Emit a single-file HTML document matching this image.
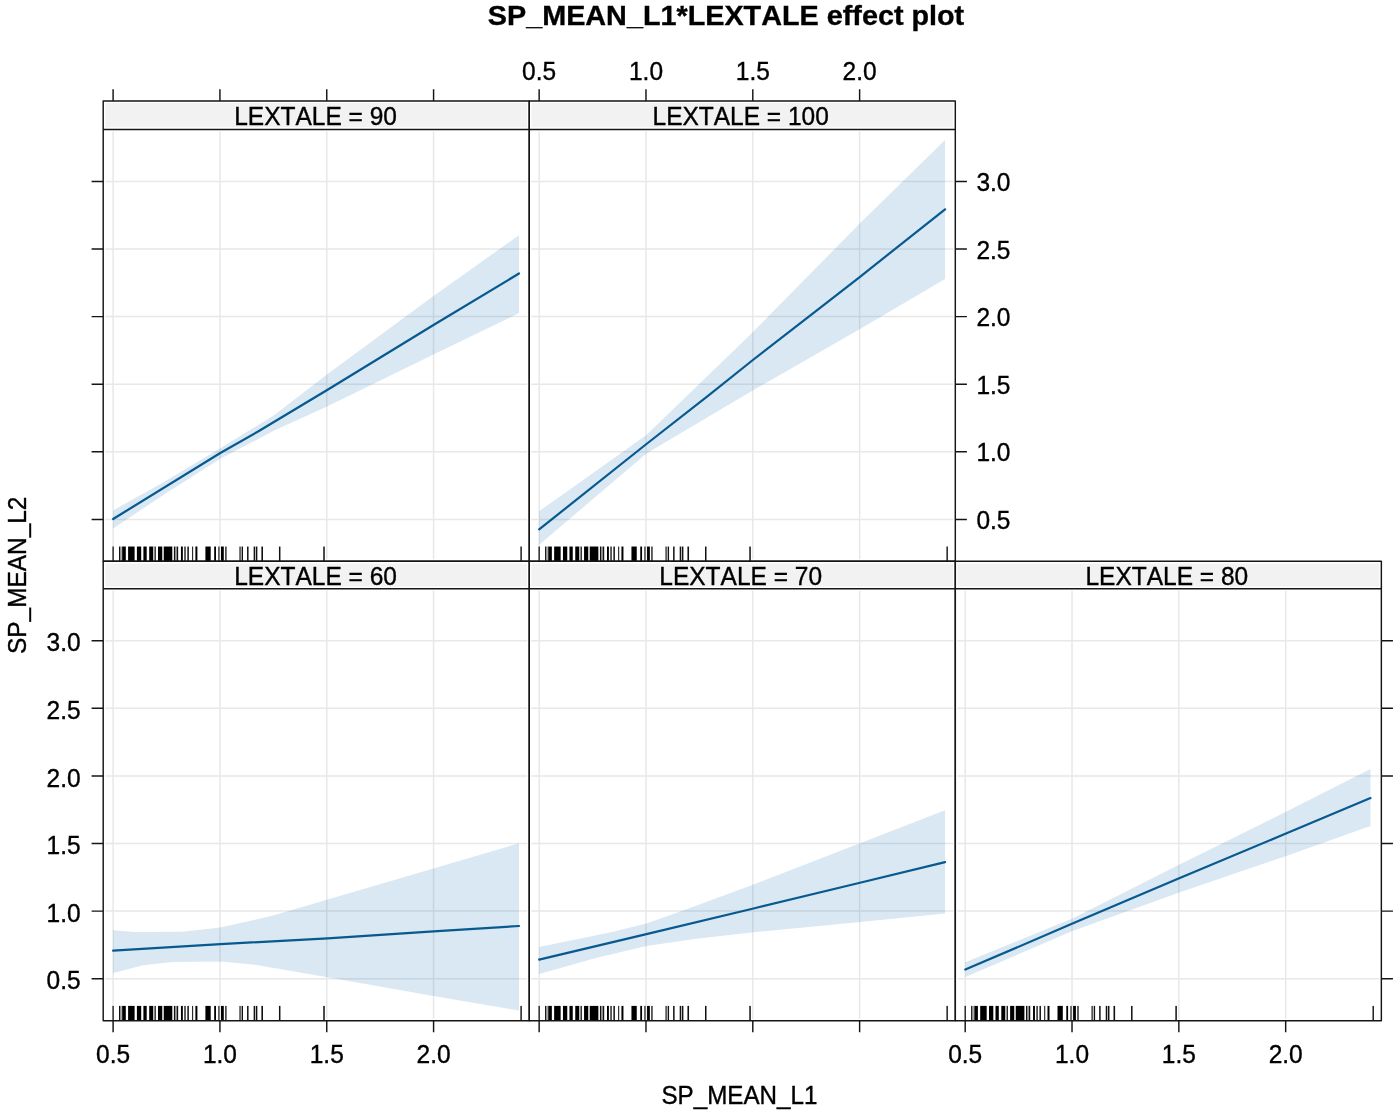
<!DOCTYPE html>
<html lang="en"><head><meta charset="utf-8"><title>SP_MEAN_L1*LEXTALE effect plot</title>
<style>html,body{margin:0;padding:0;background:#fff;overflow:hidden}svg{display:block}text{font-family:"Liberation Sans",Arial,sans-serif;font-kerning:none;fill:#000;stroke:#000;stroke-width:.36px}.t{font-size:24.5px}.g{stroke:#e8e8e8;stroke-width:1.5;fill:none}.fr{stroke:#151515;stroke-width:1.45;fill:none;stroke-linejoin:round}.ln{stroke:#07598f;stroke-width:2.2;fill:none;stroke-linecap:round;stroke-linejoin:round}.bd{fill:rgba(2,102,168,.15);stroke:none}</style></head><body>
<svg width="1393" height="1111" viewBox="0 0 1393 1111">
<rect width="1393" height="1111" fill="#fff"/>
<g>
<rect x="105.4" y="103.1" width="421.65" height="24.25" fill="#f2f2f2"/>
<path class="g" d="M113.1 131.55V559.33M219.93 131.55V559.33M326.75 131.55V559.33M433.58 131.55V559.33M105.2 519.4H527.25M105.2 451.8H527.25M105.2 384.2H527.25M105.2 316.6H527.25M105.2 249H527.25M105.2 181.4H527.25"/>
<polygon class="bd" points="113.1,510.4 161.7,483.2 220.3,448.3 273.7,415.5 327.6,374 433.5,296 519,235.2 519,313.1 433.5,354.6 327.6,406.2 273.7,430.8 220.3,458.8 161.7,496 113.1,528.6"/>
<polyline class="ln" points="113.1,519 220.3,453 258.5,431.3 327.6,389.8 433.5,325 519,273.5"/>
<rect x="122.1" y="546.53" width="3.7" height="14.8" fill="#000"/>
<rect x="128.1" y="546.53" width="6.5" height="14.8" fill="#000"/>
<rect x="136.9" y="546.53" width="4.3" height="14.8" fill="#000"/>
<rect x="143.4" y="546.53" width="3.3" height="14.8" fill="#000"/>
<rect x="149.2" y="546.53" width="4" height="14.8" fill="#000"/>
<rect x="158" y="546.53" width="4" height="14.8" fill="#000"/>
<rect x="163.8" y="546.53" width="8.5" height="14.8" fill="#000"/>
<rect x="205.4" y="546.53" width="5.3" height="14.8" fill="#000"/>
<rect x="221" y="546.53" width="2.8" height="14.8" fill="#000"/>
<rect x="120.2" y="546.53" width="1.9" height="14.8" fill="#aaa"/>
<rect x="153.2" y="546.53" width="1.4" height="14.8" fill="#bbb"/>
<rect x="162" y="546.53" width="1.8" height="14.8" fill="#bbb"/>
<rect x="175.1" y="546.53" width="1.8" height="14.8" fill="#999"/>
<rect x="112.45" y="546.53" width="1.3" height="14.8" fill="#111"/>
<rect x="119" y="546.53" width="1.2" height="14.8" fill="#111"/>
<rect x="173.9" y="546.53" width="1.2" height="14.8" fill="#111"/>
<rect x="176.85" y="546.53" width="1.3" height="14.8" fill="#111"/>
<rect x="180.95" y="546.53" width="1.9" height="14.8" fill="#000"/>
<rect x="184.15" y="546.53" width="1.7" height="14.8" fill="#444"/>
<rect x="187.35" y="546.53" width="1.5" height="14.8" fill="#111"/>
<rect x="192.05" y="546.53" width="1.1" height="14.8" fill="#222"/>
<rect x="195.4" y="546.53" width="2" height="14.8" fill="#000"/>
<rect x="214.2" y="546.53" width="1.8" height="14.8" fill="#000"/>
<rect x="218.15" y="546.53" width="1.5" height="14.8" fill="#444"/>
<rect x="225.25" y="546.53" width="1.3" height="14.8" fill="#111"/>
<rect x="239.3" y="546.53" width="1.5" height="14.8" fill="#444"/>
<rect x="241.6" y="546.53" width="1.4" height="14.8" fill="#111"/>
<rect x="247.05" y="546.53" width="1.5" height="14.8" fill="#111"/>
<rect x="253.65" y="546.53" width="1.5" height="14.8" fill="#111"/>
<rect x="255.85" y="546.53" width="1.5" height="14.8" fill="#111"/>
<rect x="261.4" y="546.53" width="1.6" height="14.8" fill="#111"/>
<rect x="278.95" y="546.53" width="1.5" height="14.8" fill="#111"/>
<rect x="323.25" y="546.53" width="1.5" height="14.8" fill="#111"/>
<rect x="520.4" y="546.53" width="1.4" height="14.8" fill="#111"/>
<rect x="154.6" y="546.53" width="1.2" height="14.8" fill="#111"/>
<path class="fr" d="M103.2 100.9H529.25V561.33H103.2ZM103.2 129.55H529.25"/>
<text class="t" transform="translate(315.53 125.45) scale(1 1.035)" text-anchor="middle">LEXTALE = 90</text>
</g>
<g>
<rect x="531.45" y="103.1" width="421.65" height="24.25" fill="#f2f2f2"/>
<path class="g" d="M539.15 131.55V559.33M645.98 131.55V559.33M752.8 131.55V559.33M859.62 131.55V559.33M531.25 519.4H953.3M531.25 451.8H953.3M531.25 384.2H953.3M531.25 316.6H953.3M531.25 249H953.3M531.25 181.4H953.3"/>
<polygon class="bd" points="539.15,511.3 646.45,435 753.5,331.4 860,223.3 945.05,140.1 945.05,279.1 860,329 753.5,390 646.45,453.5 539.15,544.8"/>
<polyline class="ln" points="539.15,529.4 646.45,444 708.3,395.7 753.5,359.5 808.8,316.7 860,276.8 945.05,209.3"/>
<rect x="548.15" y="546.53" width="3.7" height="14.8" fill="#000"/>
<rect x="554.15" y="546.53" width="6.5" height="14.8" fill="#000"/>
<rect x="562.95" y="546.53" width="4.3" height="14.8" fill="#000"/>
<rect x="569.45" y="546.53" width="3.3" height="14.8" fill="#000"/>
<rect x="575.25" y="546.53" width="4" height="14.8" fill="#000"/>
<rect x="584.05" y="546.53" width="4" height="14.8" fill="#000"/>
<rect x="589.85" y="546.53" width="8.5" height="14.8" fill="#000"/>
<rect x="631.45" y="546.53" width="5.3" height="14.8" fill="#000"/>
<rect x="647.05" y="546.53" width="2.8" height="14.8" fill="#000"/>
<rect x="546.25" y="546.53" width="1.9" height="14.8" fill="#aaa"/>
<rect x="579.25" y="546.53" width="1.4" height="14.8" fill="#bbb"/>
<rect x="588.05" y="546.53" width="1.8" height="14.8" fill="#bbb"/>
<rect x="601.15" y="546.53" width="1.8" height="14.8" fill="#999"/>
<rect x="538.5" y="546.53" width="1.3" height="14.8" fill="#111"/>
<rect x="545.05" y="546.53" width="1.2" height="14.8" fill="#111"/>
<rect x="599.95" y="546.53" width="1.2" height="14.8" fill="#111"/>
<rect x="602.9" y="546.53" width="1.3" height="14.8" fill="#111"/>
<rect x="607" y="546.53" width="1.9" height="14.8" fill="#000"/>
<rect x="610.2" y="546.53" width="1.7" height="14.8" fill="#444"/>
<rect x="613.4" y="546.53" width="1.5" height="14.8" fill="#111"/>
<rect x="618.1" y="546.53" width="1.1" height="14.8" fill="#222"/>
<rect x="621.45" y="546.53" width="2" height="14.8" fill="#000"/>
<rect x="640.25" y="546.53" width="1.8" height="14.8" fill="#000"/>
<rect x="644.2" y="546.53" width="1.5" height="14.8" fill="#444"/>
<rect x="651.3" y="546.53" width="1.3" height="14.8" fill="#111"/>
<rect x="665.35" y="546.53" width="1.5" height="14.8" fill="#444"/>
<rect x="667.65" y="546.53" width="1.4" height="14.8" fill="#111"/>
<rect x="673.1" y="546.53" width="1.5" height="14.8" fill="#111"/>
<rect x="679.7" y="546.53" width="1.5" height="14.8" fill="#111"/>
<rect x="681.9" y="546.53" width="1.5" height="14.8" fill="#111"/>
<rect x="687.45" y="546.53" width="1.6" height="14.8" fill="#111"/>
<rect x="705" y="546.53" width="1.5" height="14.8" fill="#111"/>
<rect x="749.3" y="546.53" width="1.5" height="14.8" fill="#111"/>
<rect x="946.45" y="546.53" width="1.4" height="14.8" fill="#111"/>
<rect x="580.65" y="546.53" width="1.2" height="14.8" fill="#111"/>
<path class="fr" d="M529.25 100.9H955.3V561.33H529.25ZM529.25 129.55H955.3"/>
<text class="t" transform="translate(740.67 125.45) scale(1 1.035)" text-anchor="middle">LEXTALE = 100</text>
</g>
<g>
<rect x="105.4" y="563.53" width="421.65" height="23.1" fill="#f2f2f2"/>
<path class="g" d="M113.1 590.83V1018.7M219.93 590.83V1018.7M326.75 590.83V1018.7M433.58 590.83V1018.7M105.2 978.7H527.25M105.2 911.1H527.25M105.2 843.5H527.25M105.2 775.9H527.25M105.2 708.3H527.25M105.2 640.7H527.25"/>
<polygon class="bd" points="113.1,930.3 134.5,932 182.7,931.7 220.5,927.5 272.3,915.8 327.7,899.4 433.5,868.6 519,843.3 519,1010.6 433.5,996.1 327.7,977.3 255.1,964.8 220.5,961.5 172.4,962 143.1,965.3 113.1,973"/>
<polyline class="ln" points="113.1,950.6 220.5,944.1 327.7,938.3 433.5,931.3 519,926"/>
<rect x="122.1" y="1005.9" width="3.7" height="14.8" fill="#000"/>
<rect x="128.1" y="1005.9" width="6.5" height="14.8" fill="#000"/>
<rect x="136.9" y="1005.9" width="4.3" height="14.8" fill="#000"/>
<rect x="143.4" y="1005.9" width="3.3" height="14.8" fill="#000"/>
<rect x="149.2" y="1005.9" width="4" height="14.8" fill="#000"/>
<rect x="158" y="1005.9" width="4" height="14.8" fill="#000"/>
<rect x="163.8" y="1005.9" width="8.5" height="14.8" fill="#000"/>
<rect x="205.4" y="1005.9" width="5.3" height="14.8" fill="#000"/>
<rect x="221" y="1005.9" width="2.8" height="14.8" fill="#000"/>
<rect x="120.2" y="1005.9" width="1.9" height="14.8" fill="#aaa"/>
<rect x="153.2" y="1005.9" width="1.4" height="14.8" fill="#bbb"/>
<rect x="162" y="1005.9" width="1.8" height="14.8" fill="#bbb"/>
<rect x="175.1" y="1005.9" width="1.8" height="14.8" fill="#999"/>
<rect x="112.45" y="1005.9" width="1.3" height="14.8" fill="#111"/>
<rect x="119" y="1005.9" width="1.2" height="14.8" fill="#111"/>
<rect x="173.9" y="1005.9" width="1.2" height="14.8" fill="#111"/>
<rect x="176.85" y="1005.9" width="1.3" height="14.8" fill="#111"/>
<rect x="180.95" y="1005.9" width="1.9" height="14.8" fill="#000"/>
<rect x="184.15" y="1005.9" width="1.7" height="14.8" fill="#444"/>
<rect x="187.35" y="1005.9" width="1.5" height="14.8" fill="#111"/>
<rect x="192.05" y="1005.9" width="1.1" height="14.8" fill="#222"/>
<rect x="195.4" y="1005.9" width="2" height="14.8" fill="#000"/>
<rect x="214.2" y="1005.9" width="1.8" height="14.8" fill="#000"/>
<rect x="218.15" y="1005.9" width="1.5" height="14.8" fill="#444"/>
<rect x="225.25" y="1005.9" width="1.3" height="14.8" fill="#111"/>
<rect x="239.3" y="1005.9" width="1.5" height="14.8" fill="#444"/>
<rect x="241.6" y="1005.9" width="1.4" height="14.8" fill="#111"/>
<rect x="247.05" y="1005.9" width="1.5" height="14.8" fill="#111"/>
<rect x="253.65" y="1005.9" width="1.5" height="14.8" fill="#111"/>
<rect x="255.85" y="1005.9" width="1.5" height="14.8" fill="#111"/>
<rect x="261.4" y="1005.9" width="1.6" height="14.8" fill="#111"/>
<rect x="278.95" y="1005.9" width="1.5" height="14.8" fill="#111"/>
<rect x="323.25" y="1005.9" width="1.5" height="14.8" fill="#111"/>
<rect x="520.4" y="1005.9" width="1.4" height="14.8" fill="#111"/>
<rect x="154.6" y="1005.9" width="1.2" height="14.8" fill="#111"/>
<path class="fr" d="M103.2 561.33H529.25V1020.7H103.2ZM103.2 588.83H529.25"/>
<text class="t" transform="translate(315.53 584.73) scale(1 1.035)" text-anchor="middle">LEXTALE = 60</text>
</g>
<g>
<rect x="531.45" y="563.53" width="421.65" height="23.1" fill="#f2f2f2"/>
<path class="g" d="M539.15 590.83V1018.7M645.98 590.83V1018.7M752.8 590.83V1018.7M859.62 590.83V1018.7M531.25 978.7H953.3M531.25 911.1H953.3M531.25 843.5H953.3M531.25 775.9H953.3M531.25 708.3H953.3M531.25 640.7H953.3"/>
<polygon class="bd" points="539.15,947 612.1,932 646.45,923.4 681.1,911.3 753.5,884.5 860,843.3 945.05,810.3 945.05,913.4 860,922 753.5,932.3 698.3,938.4 646.45,946 594.9,958.2 539.15,974"/>
<polyline class="ln" points="539.15,959.6 646.45,934.1 753.5,908.5 860,882.8 945.05,862.1"/>
<rect x="548.15" y="1005.9" width="3.7" height="14.8" fill="#000"/>
<rect x="554.15" y="1005.9" width="6.5" height="14.8" fill="#000"/>
<rect x="562.95" y="1005.9" width="4.3" height="14.8" fill="#000"/>
<rect x="569.45" y="1005.9" width="3.3" height="14.8" fill="#000"/>
<rect x="575.25" y="1005.9" width="4" height="14.8" fill="#000"/>
<rect x="584.05" y="1005.9" width="4" height="14.8" fill="#000"/>
<rect x="589.85" y="1005.9" width="8.5" height="14.8" fill="#000"/>
<rect x="631.45" y="1005.9" width="5.3" height="14.8" fill="#000"/>
<rect x="647.05" y="1005.9" width="2.8" height="14.8" fill="#000"/>
<rect x="546.25" y="1005.9" width="1.9" height="14.8" fill="#aaa"/>
<rect x="579.25" y="1005.9" width="1.4" height="14.8" fill="#bbb"/>
<rect x="588.05" y="1005.9" width="1.8" height="14.8" fill="#bbb"/>
<rect x="601.15" y="1005.9" width="1.8" height="14.8" fill="#999"/>
<rect x="538.5" y="1005.9" width="1.3" height="14.8" fill="#111"/>
<rect x="545.05" y="1005.9" width="1.2" height="14.8" fill="#111"/>
<rect x="599.95" y="1005.9" width="1.2" height="14.8" fill="#111"/>
<rect x="602.9" y="1005.9" width="1.3" height="14.8" fill="#111"/>
<rect x="607" y="1005.9" width="1.9" height="14.8" fill="#000"/>
<rect x="610.2" y="1005.9" width="1.7" height="14.8" fill="#444"/>
<rect x="613.4" y="1005.9" width="1.5" height="14.8" fill="#111"/>
<rect x="618.1" y="1005.9" width="1.1" height="14.8" fill="#222"/>
<rect x="621.45" y="1005.9" width="2" height="14.8" fill="#000"/>
<rect x="640.25" y="1005.9" width="1.8" height="14.8" fill="#000"/>
<rect x="644.2" y="1005.9" width="1.5" height="14.8" fill="#444"/>
<rect x="651.3" y="1005.9" width="1.3" height="14.8" fill="#111"/>
<rect x="665.35" y="1005.9" width="1.5" height="14.8" fill="#444"/>
<rect x="667.65" y="1005.9" width="1.4" height="14.8" fill="#111"/>
<rect x="673.1" y="1005.9" width="1.5" height="14.8" fill="#111"/>
<rect x="679.7" y="1005.9" width="1.5" height="14.8" fill="#111"/>
<rect x="681.9" y="1005.9" width="1.5" height="14.8" fill="#111"/>
<rect x="687.45" y="1005.9" width="1.6" height="14.8" fill="#111"/>
<rect x="705" y="1005.9" width="1.5" height="14.8" fill="#111"/>
<rect x="749.3" y="1005.9" width="1.5" height="14.8" fill="#111"/>
<rect x="946.45" y="1005.9" width="1.4" height="14.8" fill="#111"/>
<rect x="580.65" y="1005.9" width="1.2" height="14.8" fill="#111"/>
<path class="fr" d="M529.25 561.33H955.3V1020.7H529.25ZM529.25 588.83H955.3"/>
<text class="t" transform="translate(740.67 584.73) scale(1 1.035)" text-anchor="middle">LEXTALE = 70</text>
</g>
<g>
<rect x="957.5" y="563.53" width="421.65" height="23.1" fill="#f2f2f2"/>
<path class="g" d="M965.2 590.83V1018.7M1072.02 590.83V1018.7M1178.85 590.83V1018.7M1285.67 590.83V1018.7M957.3 978.7H1379.35M957.3 911.1H1379.35M957.3 843.5H1379.35M957.3 775.9H1379.35M957.3 708.3H1379.35M957.3 640.7H1379.35"/>
<polygon class="bd" points="965.3,962.3 1072.5,918.4 1178.6,865 1285.4,812 1370.5,769.1 1370.5,825.9 1285.4,856.2 1178.6,892.8 1072.5,931 965.3,977"/>
<polyline class="ln" points="965.3,969.6 1072.5,923.6 1178.6,878.4 1285.4,833.8 1370.5,798.1"/>
<rect x="974.2" y="1005.9" width="3.7" height="14.8" fill="#000"/>
<rect x="980.2" y="1005.9" width="6.5" height="14.8" fill="#000"/>
<rect x="989" y="1005.9" width="4.3" height="14.8" fill="#000"/>
<rect x="995.5" y="1005.9" width="3.3" height="14.8" fill="#000"/>
<rect x="1001.3" y="1005.9" width="4" height="14.8" fill="#000"/>
<rect x="1010.1" y="1005.9" width="4" height="14.8" fill="#000"/>
<rect x="1015.9" y="1005.9" width="8.5" height="14.8" fill="#000"/>
<rect x="1057.5" y="1005.9" width="5.3" height="14.8" fill="#000"/>
<rect x="1073.1" y="1005.9" width="2.8" height="14.8" fill="#000"/>
<rect x="972.3" y="1005.9" width="1.9" height="14.8" fill="#aaa"/>
<rect x="1005.3" y="1005.9" width="1.4" height="14.8" fill="#bbb"/>
<rect x="1014.1" y="1005.9" width="1.8" height="14.8" fill="#bbb"/>
<rect x="1027.2" y="1005.9" width="1.8" height="14.8" fill="#999"/>
<rect x="964.55" y="1005.9" width="1.3" height="14.8" fill="#111"/>
<rect x="971.1" y="1005.9" width="1.2" height="14.8" fill="#111"/>
<rect x="1026" y="1005.9" width="1.2" height="14.8" fill="#111"/>
<rect x="1028.95" y="1005.9" width="1.3" height="14.8" fill="#111"/>
<rect x="1033.05" y="1005.9" width="1.9" height="14.8" fill="#000"/>
<rect x="1036.25" y="1005.9" width="1.7" height="14.8" fill="#444"/>
<rect x="1039.45" y="1005.9" width="1.5" height="14.8" fill="#111"/>
<rect x="1044.15" y="1005.9" width="1.1" height="14.8" fill="#222"/>
<rect x="1047.5" y="1005.9" width="2" height="14.8" fill="#000"/>
<rect x="1066.3" y="1005.9" width="1.8" height="14.8" fill="#000"/>
<rect x="1070.25" y="1005.9" width="1.5" height="14.8" fill="#444"/>
<rect x="1077.35" y="1005.9" width="1.3" height="14.8" fill="#111"/>
<rect x="1091.4" y="1005.9" width="1.5" height="14.8" fill="#444"/>
<rect x="1093.7" y="1005.9" width="1.4" height="14.8" fill="#111"/>
<rect x="1099.15" y="1005.9" width="1.5" height="14.8" fill="#111"/>
<rect x="1105.75" y="1005.9" width="1.5" height="14.8" fill="#111"/>
<rect x="1107.95" y="1005.9" width="1.5" height="14.8" fill="#111"/>
<rect x="1113.5" y="1005.9" width="1.6" height="14.8" fill="#111"/>
<rect x="1131.05" y="1005.9" width="1.5" height="14.8" fill="#111"/>
<rect x="1175.35" y="1005.9" width="1.5" height="14.8" fill="#111"/>
<rect x="1372.5" y="1005.9" width="1.4" height="14.8" fill="#111"/>
<rect x="1006.7" y="1005.9" width="1.2" height="14.8" fill="#111"/>
<path class="fr" d="M955.3 561.33H1381.35V1020.7H955.3ZM955.3 588.83H1381.35"/>
<text class="t" transform="translate(1166.82 584.73) scale(1 1.035)" text-anchor="middle">LEXTALE = 80</text>
</g>
<path class="fr" d="M113.1 100.9V89.3M219.93 100.9V89.3M326.75 100.9V89.3M433.58 100.9V89.3M539.15 100.9V89.3M645.98 100.9V89.3M752.8 100.9V89.3M859.62 100.9V89.3M113.1 1020.7V1032.3M219.93 1020.7V1032.3M326.75 1020.7V1032.3M433.58 1020.7V1032.3M539.15 1020.7V1032.3M645.98 1020.7V1032.3M752.8 1020.7V1032.3M859.62 1020.7V1032.3M965.2 1020.7V1032.3M1072.02 1020.7V1032.3M1178.85 1020.7V1032.3M1285.67 1020.7V1032.3M103.2 519.4H91.6M103.2 451.8H91.6M103.2 384.2H91.6M103.2 316.6H91.6M103.2 249H91.6M103.2 181.4H91.6M103.2 978.7H91.6M103.2 911.1H91.6M103.2 843.5H91.6M103.2 775.9H91.6M103.2 708.3H91.6M103.2 640.7H91.6M955.3 519.4H966.9M955.3 451.8H966.9M955.3 384.2H966.9M955.3 316.6H966.9M955.3 249H966.9M955.3 181.4H966.9M1381.35 978.7H1392.95M1381.35 911.1H1392.95M1381.35 843.5H1392.95M1381.35 775.9H1392.95M1381.35 708.3H1392.95M1381.35 640.7H1392.95"/>
<g class="t">
<text transform="translate(539.15 79.6) scale(1 1.035)" text-anchor="middle">0.5</text>
<text transform="translate(645.98 79.6) scale(1 1.035)" text-anchor="middle">1.0</text>
<text transform="translate(752.8 79.6) scale(1 1.035)" text-anchor="middle">1.5</text>
<text transform="translate(859.62 79.6) scale(1 1.035)" text-anchor="middle">2.0</text>
<text transform="translate(113.1 1062.6) scale(1 1.035)" text-anchor="middle">0.5</text>
<text transform="translate(219.93 1062.6) scale(1 1.035)" text-anchor="middle">1.0</text>
<text transform="translate(326.75 1062.6) scale(1 1.035)" text-anchor="middle">1.5</text>
<text transform="translate(433.58 1062.6) scale(1 1.035)" text-anchor="middle">2.0</text>
<text transform="translate(965.2 1062.6) scale(1 1.035)" text-anchor="middle">0.5</text>
<text transform="translate(1072.02 1062.6) scale(1 1.035)" text-anchor="middle">1.0</text>
<text transform="translate(1178.85 1062.6) scale(1 1.035)" text-anchor="middle">1.5</text>
<text transform="translate(1285.67 1062.6) scale(1 1.035)" text-anchor="middle">2.0</text>
<text transform="translate(80.6 989.3) scale(1 1.035)" text-anchor="end">0.5</text>
<text transform="translate(976.4 528.9) scale(1 1.035)">0.5</text>
<text transform="translate(80.6 921.7) scale(1 1.035)" text-anchor="end">1.0</text>
<text transform="translate(976.4 461.3) scale(1 1.035)">1.0</text>
<text transform="translate(80.6 854.1) scale(1 1.035)" text-anchor="end">1.5</text>
<text transform="translate(976.4 393.7) scale(1 1.035)">1.5</text>
<text transform="translate(80.6 786.5) scale(1 1.035)" text-anchor="end">2.0</text>
<text transform="translate(976.4 326.1) scale(1 1.035)">2.0</text>
<text transform="translate(80.6 718.9) scale(1 1.035)" text-anchor="end">2.5</text>
<text transform="translate(976.4 258.5) scale(1 1.035)">2.5</text>
<text transform="translate(80.6 651.3) scale(1 1.035)" text-anchor="end">3.0</text>
<text transform="translate(976.4 190.9) scale(1 1.035)">3.0</text>
</g>
<text transform="translate(739.4 1103.6) scale(1 1.035)" text-anchor="middle" style="font-size:24.2px">SP_MEAN_L1</text>
<text transform="translate(25.7 575.3) rotate(-90) scale(1 1.035)" text-anchor="middle" style="font-size:24.4px">SP_MEAN_L2</text>
<text x="487.8" y="24.7" textLength="476.4" lengthAdjust="spacingAndGlyphs" style="font-size:28.2px;font-weight:bold">SP_MEAN_L1*LEXTALE effect plot</text>
</svg></body></html>
